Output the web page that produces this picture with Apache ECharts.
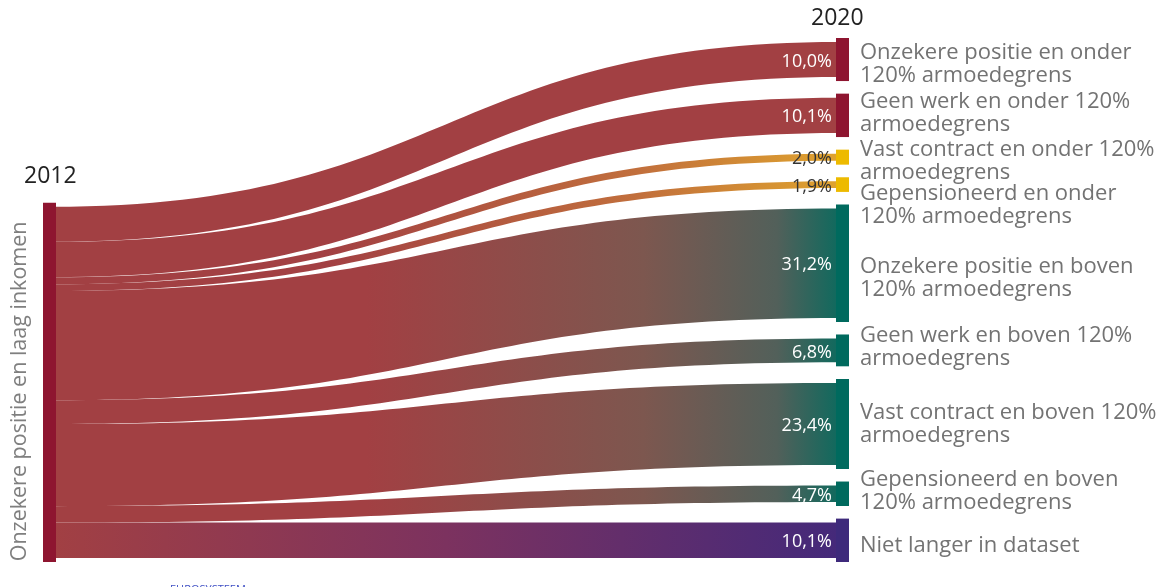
<!DOCTYPE html>
<html>
<head>
<meta charset="utf-8">
<script src="https://cdn.jsdelivr.net/npm/echarts@6/dist/echarts.min.js"></script>
<style>
  html, body { margin: 0; padding: 0; background: #ffffff; }
  #chart { width: 1171px; height: 587px; }
</style>
</head>
<body>
<div id="chart"></div>
<script>
// Where people with an insecure position and low income in 2012 ended up in 2020 (share, %)
const sourceName = 'Onzekere positie en laag inkomen';
const targetNames = [
  'Onzekere positie en onder\n120% armoedegrens',
  'Geen werk en onder 120%\narmoedegrens',
  'Vast contract en onder 120%\narmoedegrens',
  'Gepensioneerd en onder\n120% armoedegrens',
  'Onzekere positie en boven\n120% armoedegrens',
  'Geen werk en boven 120%\narmoedegrens',
  'Vast contract en boven 120%\narmoedegrens',
  'Gepensioneerd en boven\n120% armoedegrens',
  'Niet langer in dataset'
];
const shares = [10.0, 10.1, 2.0, 1.9, 31.2, 6.8, 23.4, 4.7, 10.1];
const groups = ['low', 'low', 'lowWork', 'lowWork', 'high', 'high', 'high', 'high', 'gone'];
const yearLabels = ['2012', '2020'];
const sourceLabel = 'EUROSYSTEEM';

// Styling
const NODE_COLORS = { source: '#8e1530', low: '#8e1530', lowWork: '#edba00', high: '#006a5e', gone: '#3e2a7b' };
const LINK_RED = '#a24043';
const LINK_STOPS = {
  low: [[0, LINK_RED], [1, LINK_RED]],
  lowWork: [[0, LINK_RED], [0.35, LINK_RED], [0.75, '#c2703c'], [1, '#e0a42e']],
  high: [[0, LINK_RED], [0.4, LINK_RED], [0.75, '#7d574f'], [0.92, '#52605a'], [1, '#0e6a5e']],
  gone: [[0, LINK_RED], [0.5, '#7c325f'], [1, '#44297a']]
};
const PCT_COLORS = { low: '#ffffff', lowWork: '#333333', high: '#ffffff', gone: '#ffffff' };
// small vertical nudges so the two-line names do not collide
const LABEL_SHIFT = [5, -2, 4, 21, 15, -3, 0, -3, 5];

const W = 1171, H = 587;
const LAYOUT = { left: 47, right: 326, top: 42, bottom: 29 };
const NODE_GAP = 20.6;
const NODE_W = 5;
const NODE_PAD = 8;   // node border, drawn in the node colour so the bars overhang the flows
const layoutHeight = H - LAYOUT.top - LAYOUT.bottom;
// the 2012 bar sits level with the bottom of the 2020 column
const sourceLocalY = (targetNames.length - 1) * NODE_GAP / layoutHeight;

const FONT = 'Open Sans';
const fmtPct = v => v.toFixed(1).replace('.', ',') + '%';

function gradient(stops) {
  return new echarts.graphic.LinearGradient(0, 0, 1, 0,
    stops.map(s => ({ offset: s[0], color: s[1] })));
}

function buildNodes(withNames) {
  const nodes = [{
    name: sourceName,
    localY: sourceLocalY,
    itemStyle: withNames
      ? { color: NODE_COLORS.source, borderColor: NODE_COLORS.source, borderWidth: NODE_PAD }
      : { opacity: 0 },
    label: withNames ? {
      show: true,
      position: 'left',
      distance: 23,
      rotate: 90,
      align: 'center',
      verticalAlign: 'middle',
      offset: [-9, 0],   // offset is in the rotated frame: -x moves the text down
      color: '#7f7f7f',
      fontSize: 21.5,
      fontFamily: FONT
    } : { show: false }
  }];
  targetNames.forEach((name, i) => {
    const c = NODE_COLORS[groups[i]];
    nodes.push({
      name: name,
      itemStyle: withNames
        ? { color: c, borderColor: c, borderWidth: NODE_PAD }
        : { opacity: 0 },
      label: withNames ? {
        show: true,
        position: 'right',
        distance: 11,
        offset: [0, LABEL_SHIFT[i]],
        color: '#737373',
        fontSize: 22,
        lineHeight: 23,
        fontFamily: FONT
      } : {
        show: true,
        position: 'left',
        distance: 8,
        offset: [0, 2],
        formatter: fmtPct(shares[i]),
        color: PCT_COLORS[groups[i]],
        fontSize: 18,
        fontFamily: FONT
      }
    });
  });
  return nodes;
}

function buildLinks(visible) {
  return targetNames.map((name, i) => ({
    source: sourceName,
    target: name,
    value: shares[i],
    lineStyle: visible
      ? { color: gradient(LINK_STOPS[groups[i]]), opacity: 1 }
      : { opacity: 0 }
  }));
}

const baseSeries = {
  type: 'sankey',
  left: LAYOUT.left,
  right: LAYOUT.right,
  top: LAYOUT.top,
  bottom: LAYOUT.bottom,
  nodeWidth: NODE_W,
  nodeGap: NODE_GAP,
  layoutIterations: 0,
  draggable: false,
  emphasis: { disabled: true },
  lineStyle: { curveness: 0.5 }
};

const yearStyle = { fontSize: 23, fontWeight: 'normal', color: '#222222', fontFamily: FONT };

const chart = echarts.init(document.getElementById('chart'), null, { renderer: 'canvas' });
chart.setOption({
  animation: false,
  backgroundColor: '#ffffff',
  title: [
    { text: yearLabels[0], left: 19, top: 160, textStyle: yearStyle },
    { text: yearLabels[1], left: 806, top: 2, textStyle: yearStyle },
    { text: sourceLabel, left: 165, top: 579,
      textStyle: { fontSize: 11, fontWeight: 'normal', color: '#3f4fc4', fontFamily: FONT } }
  ],
  series: [
    Object.assign({}, baseSeries, {
      data: buildNodes(true),
      links: buildLinks(true)
    }),
    Object.assign({}, baseSeries, {
      silent: true,
      data: buildNodes(false),
      links: buildLinks(false)
    })
  ]
});
</script>
</body>
</html>
